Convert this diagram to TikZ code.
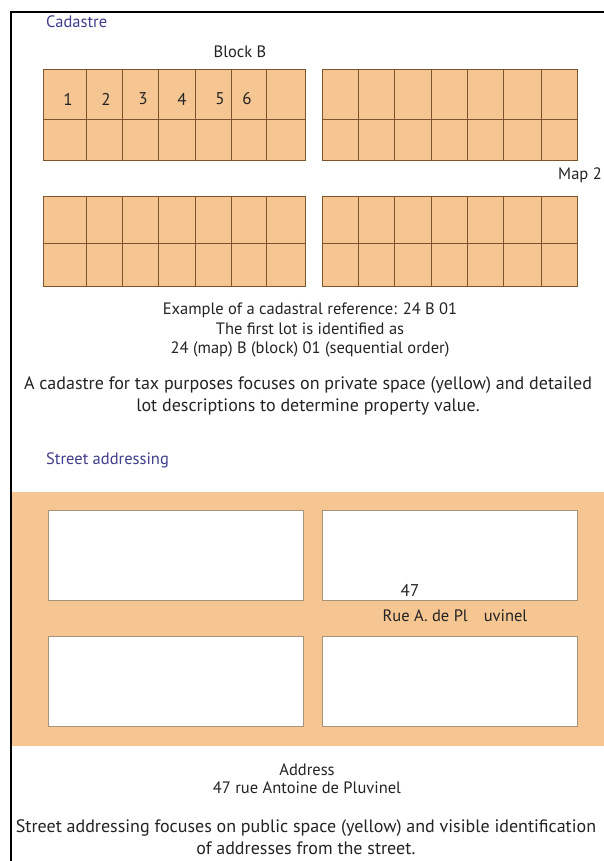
\documentclass[tikz,border=0pt]{standalone}
\usepackage{fontspec}
\setmainfont{PT Sans}
\usetikzlibrary{positioning}
\definecolor{lotfill}{RGB}{246,198,146}
\definecolor{lotedge}{RGB}{125,85,45}
\definecolor{headblue}{RGB}{62,62,140}
\definecolor{buildedge}{RGB}{165,148,122}
\definecolor{textgray}{RGB}{35,35,35}
\tikzset{
  lotblock/.style = {rectangle, draw=lotedge, fill=lotfill, line width=0.8pt, inner sep=0pt, anchor=north west, minimum height=91pt},
  lotline/.style = {draw=lotedge, line width=0.8pt},
  street/.style = {rectangle, fill=lotfill, inner sep=0pt, anchor=north west},
  building/.style = {rectangle, draw=buildedge, fill=white, line width=0.8pt, inner sep=0pt, anchor=north west, minimum width=255pt, minimum height=90pt},
  heading/.style = {text=headblue, anchor=west, inner sep=0pt, font=\fontsize{16.5}{18}\selectfont},
  caption/.style = {text=textgray, inner sep=0pt, font=\fontsize{16.5}{18}\selectfont},
  note/.style = {text=textgray, inner sep=0pt, align=center, font=\fontsize{18}{22}\selectfont},
  lotnum/.style = {text=textgray, inner sep=0pt, font=\fontsize{17}{18}\selectfont}
}
\begin{document}
\begin{tikzpicture}[x=1pt, y=-1pt]
\useasboundingbox (0,0) rectangle (604,861);

% cadastre: two maps of lots
\node[heading] (cadastre) at (46,22) {Cadastre};
\node[caption] (blockb) at (240,52) {Block B};
\node[lotblock, minimum width=262pt] (tl) at (43,69) {};
\node[lotblock, minimum width=255pt] (tr) at (322,69) {};
\node[lotblock, minimum width=262pt, minimum height=90pt] (bl) at (43,196) {};
\node[lotblock, minimum width=255pt, minimum height=90pt] (br) at (322,196) {};
\foreach \x in {86,122,158,195,231,266} {
  \draw[lotline] (\x,69) -- (\x,160);
  \draw[lotline] (\x,196) -- (\x,286);
}
\foreach \x in {358,394,431,467,503,541} {
  \draw[lotline] (\x,69) -- (\x,160);
  \draw[lotline] (\x,196) -- (\x,286);
}
\draw[lotline] (tl.west |- 0,119) -- (tl.east |- 0,119);
\draw[lotline] (tr.west |- 0,119) -- (tr.east |- 0,119);
\draw[lotline] (bl.west |- 0,243) -- (bl.east |- 0,243);
\draw[lotline] (br.west |- 0,243) -- (br.east |- 0,243);
\foreach \n/\x in {1/68,2/106,3/143,4/182,5/220,6/247}
  \node[lotnum] (lot\n) at (\x,99) {\n};
\node[caption, anchor=west] (map2) at (558,175) {Map 2};

\node[caption] (example) at (310,310) {Example of a cadastral reference: 24 B 01};
\node[caption] (firstlot) at (310,329) {The first lot is identified as};
\node[caption] (refcode) at (310,349) {24 (map) B (block) 01 (sequential order)};
\node[note] (taxnote) at (308,396)
  {A cadastre for tax purposes focuses on private space (yellow) and detailed\\
   lot descriptions to determine property value.};

% street addressing
\node[heading] (addressing) at (46,460) {Street addressing};
\node[street, minimum width=593pt, minimum height=254pt] (road) at (11,492) {};
\node[building] (htl) at (48,510) {};
\node[building] (htr) at (322,510) {};
\node[building] (hbl) at (48,636) {};
\node[building] (hbr) at (322,636) {};
\node[lotnum] (number) at (410,590) {47};
\node[caption] (roadname) at (455,616) {Rue A. de Pl\hspace{16pt}uvinel};

\node[caption] (address) at (307,770) {Address};
\node[caption] (fulladdress) at (307,788) {47 rue Antoine de Pluvinel};
\node[note] (streetnote) at (306,837)
  {Street addressing focuses on public space (yellow) and visible identification\\
   of addresses from the street.};

% frame
\draw[line width=2.4pt] (11,861) -- (11,12) -- (604,12);
\end{tikzpicture}
\end{document}
